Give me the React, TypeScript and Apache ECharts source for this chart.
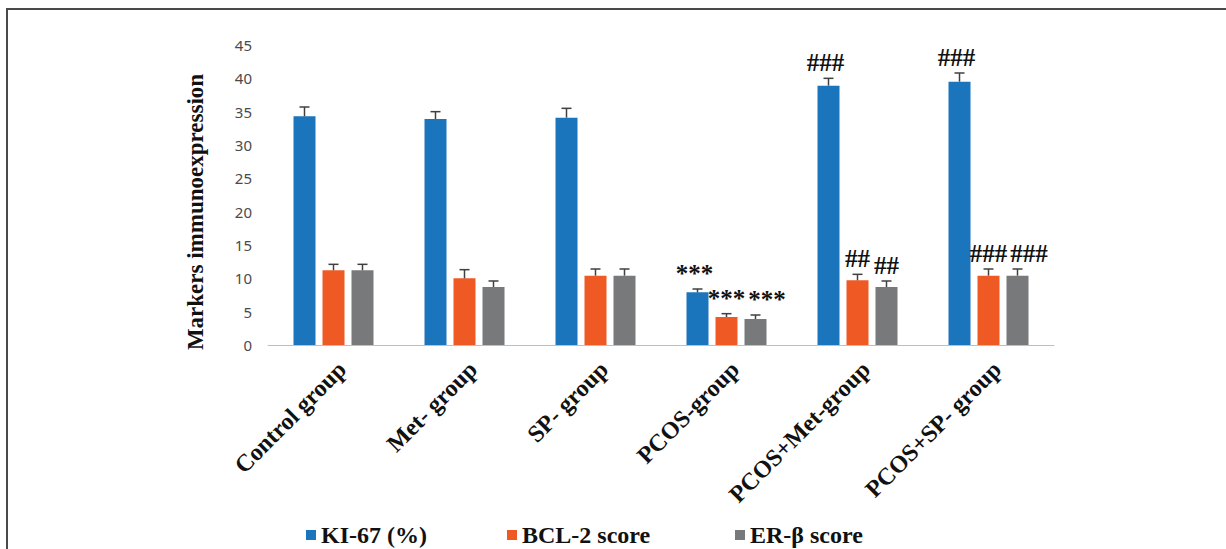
import React, { useEffect, useRef } from "react";
import * as echarts from "echarts";

// Groups on the x axis
const categories = [
  "Control group",
  "Met- group",
  "SP- group",
  "PCOS-group",
  "PCOS+Met-group",
  "PCOS+SP- group",
];

// Mean values per marker
const ki67 = [34.3, 33.9, 34.1, 7.9, 38.9, 39.5];
const bcl2 = [11.2, 10.0, 10.4, 4.2, 9.7, 10.4];
const erb = [11.2, 8.7, 10.4, 3.9, 8.7, 10.4];

// Upper error (SE) per marker
const ki67Err = [1.4, 1.1, 1.4, 0.5, 1.1, 1.3];
const bcl2Err = [0.9, 1.3, 1.0, 0.5, 0.9, 1.0];
const erbErr = [0.9, 0.9, 1.0, 0.6, 0.9, 1.0];

// Significance marks drawn above each bar
const ki67Marks = ["", "", "", "***", "###", "###"];
const bcl2Marks = ["", "", "", "***", "##", "###"];
const erbMarks = ["", "", "", "***", "##", "###"];

// Y axis ticks
const yMin = 0;
const yMax = 45;
const yStep = 5;

const seriesNames = ["KI-67 (%)", "BCL-2 score", "ER-β score"];
const colors = ["#1A75BC", "#EF5A24", "#77797B"];

const BAR_W = 22;
const BAR_GAP = 7;
const MARK_FONT = 25;
const LEGEND_LEFT = [306, 507, 735];

export default function App() {
  const ref = useRef<HTMLDivElement>(null);

  useEffect(() => {
    if (!ref.current) return;
    const chart = echarts.init(ref.current, null, { renderer: "svg" });

    const values = [ki67, bcl2, erb];
    const errs = [ki67Err, bcl2Err, erbErr];
    const marks = [ki67Marks, bcl2Marks, erbMarks];

    // Approximate width of a mark string (glyphs ~0.5em wide)
    const markWidth = (m: string) => m.length * 0.5 * MARK_FONT;

    // Horizontal nudge so that neighbouring marks do not collide
    const markShift = (s: number, ci: number) => {
      if (s === 0) return -3;
      if (s === 1) return 0;
      const prev = marks[1][ci];
      if (!prev) return 0;
      const need =
        markWidth(prev) / 2 + markWidth(marks[2][ci]) / 2 + 3 - (BAR_W + BAR_GAP);
      return Math.max(0, need);
    };

    const barSeries = values.map((v, s) => ({
      name: seriesNames[s],
      type: "bar",
      data: v,
      barWidth: BAR_W,
      barGap: `${(BAR_GAP / BAR_W) * 100}%`,
      itemStyle: { color: colors[s] },
      z: 2,
    }));

    // Upper error bars with caps, plus the significance marks above them
    const errSeries = values.map((v, s) => ({
      type: "custom",
      silent: true,
      z: 5,
      data: v.map((val, i) => [i, val, errs[s][i]]),
      renderItem: (params: any, api: any) => {
        const ci = api.value(0);
        const val = api.value(1);
        const err = api.value(2);
        const mark = marks[s][ci];
        const base = api.coord([ci, val]);
        const top = api.coord([ci, val + err]);
        const offset = (s - 1) * (BAR_W + BAR_GAP);
        const x = base[0] + offset;
        const lineStyle = { stroke: "#404040", lineWidth: 1.5 };
        const children: any[] = [
          {
            type: "line",
            shape: { x1: x, y1: base[1], x2: x, y2: top[1] },
            style: lineStyle,
          },
          {
            type: "line",
            shape: { x1: x - 5, y1: top[1], x2: x + 5, y2: top[1] },
            style: lineStyle,
          },
        ];
        if (mark) {
          children.push({
            type: "text",
            x: x + markShift(s, ci),
            y: top[1] - 3,
            style: {
              text: mark,
              fill: "#111",
              font: `bold ${MARK_FONT}px 'Liberation Serif'`,
              textAlign: "center",
              textVerticalAlign: "bottom",
            },
          });
        }
        return { type: "group", children };
      },
    }));

    const legends = seriesNames.map((n, s) => ({
      data: [n],
      left: LEGEND_LEFT[s],
      top: 522,
      padding: 0,
      icon: "rect",
      itemWidth: 10,
      itemHeight: 10,
      selectedMode: false,
      textStyle: {
        fontFamily: "Liberation Serif",
        fontWeight: "bold",
        fontSize: 24,
        lineHeight: 26,
        color: "#111",
      },
    }));

    chart.setOption({
      animation: false,
      backgroundColor: "#fff",
      color: colors,
      grid: { left: 268, right: 172, top: 45, bottom: 204 },
      legend: legends,
      xAxis: {
        type: "category",
        data: categories,
        axisLine: { lineStyle: { color: "#BFBFBF", width: 1 } },
        axisTick: { show: false },
        axisLabel: {
          interval: 0,
          rotate: 45,
          margin: 12,
          verticalAlign: "top",
          fontFamily: "Liberation Serif",
          fontWeight: "bold",
          fontSize: 24,
          color: "#111",
        },
      },
      yAxis: {
        type: "value",
        min: yMin,
        max: yMax,
        interval: yStep,
        splitLine: { show: false },
        axisLine: { show: false },
        axisTick: { show: false },
        axisLabel: {
          margin: 16,
          fontFamily: "Noto Sans",
          fontSize: 15,
          color: "#4A4A4A",
        },
      },
      graphic: [
        {
          type: "rect",
          shape: { x: 7, y: 9, width: 1400, height: 800 },
          style: { fill: "none", stroke: "#4a4a4a", lineWidth: 2 },
          silent: true,
        },
        {
          type: "text",
          x: 195,
          y: 212,
          rotation: Math.PI / 2,
          style: {
            text: "Markers immunoexpression",
            font: "bold 23px 'Liberation Serif'",
            fill: "#111",
            textAlign: "center",
            textVerticalAlign: "middle",
          },
        },
      ],
      series: [...barSeries, ...errSeries],
    });

    return () => chart.dispose();
  }, []);

  return (
    <div
      ref={ref}
      style={{ position: "fixed", left: 0, top: 0, width: 1226, height: 549 }}
    />
  );
}
